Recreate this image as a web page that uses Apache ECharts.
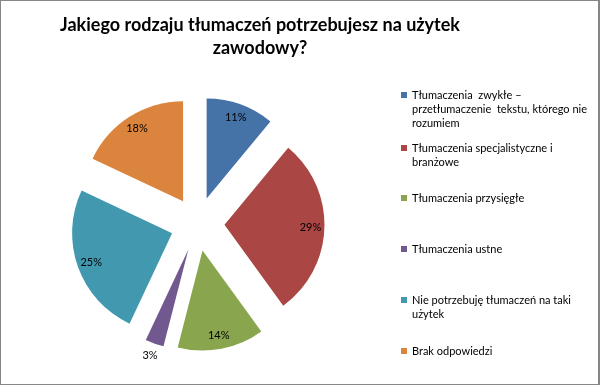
<!DOCTYPE html>
<html><head><meta charset="utf-8">
<script src="https://cdn.jsdelivr.net/npm/echarts@6/dist/echarts.min.js"></script>
<style>
html,body{margin:0;padding:0;background:#fff}
#wrap{position:relative;width:600px;height:385px}
#c{width:600px;height:385px}
#b{position:absolute;left:0;top:0;width:600px;height:385px;box-sizing:border-box;border:1px solid #868686;border-right-width:2px;pointer-events:none}
</style>
</head><body>
<div id="wrap"><div id="c"></div><div id="b"></div></div>
<script>
const titleText = 'Jakiego rodzaju tłumaczeń potrzebujesz na użytek\nzawodowy?';
const categories = [
  'Tłumaczenia zwykłe – przetłumaczenie tekstu, którego nie rozumiem',
  'Tłumaczenia specjalistyczne i branżowe',
  'Tłumaczenia przysięgłe',
  'Tłumaczenia ustne',
  'Nie potrzebuję tłumaczeń na taki użytek',
  'Brak odpowiedzi'
];
const legendLines = [
  ['Tłumaczenia  zwykłe –', 'przetłumaczenie  tekstu, którego nie', 'rozumiem'],
  ['Tłumaczenia specjalistyczne i', 'branżowe'],
  ['Tłumaczenia przysięgłe'],
  ['Tłumaczenia ustne'],
  ['Nie potrzebuję tłumaczeń na taki', 'użytek'],
  ['Brak odpowiedzi']
];
const values = [11, 29, 14, 3, 25, 18];
const colors = ['#4572A7', '#AA4643', '#89A54E', '#71588F', '#4198AF', '#DB843D'];
const outsideLabel = [false, false, false, true, false, false];

const chart = echarts.init(document.getElementById('c'), null, {renderer: 'canvas'});
const CX = 197.5, CY = 224, R = 100, OFF = 27;
const LH = 14;
const iconY = [95, 148, 198, 249, 300, 351];

const legends = categories.map((name, i) => {
  const n = legendLines[i].length;
  const txt = new Array(n - 1).fill('').concat(legendLines[i]).join('\n');
  return {
    data: [name],
    orient: 'vertical',
    left: 401,
    top: iconY[i] - (2 * n - 1) * LH / 2,
    padding: 0,
    icon: 'rect',
    itemWidth: 6,
    itemHeight: 6,
    selectedMode: false,
    formatter: () => txt,
    textStyle: {fontFamily: 'Lato', fontSize: 11, color: '#000', lineHeight: LH}
  };
});

const baseData = values.map((v, i) => ({
  name: categories[i], value: v, selected: true,
  itemStyle: {color: colors[i]}
}));

chart.setOption({
  animation: false,
  title: {
    text: titleText,
    left: 260, top: 14, padding: 0,
    textAlign: 'center',
    textStyle: {fontFamily: 'Lato', fontWeight: 'bold', fontSize: 18, lineHeight: 23, color: '#000'}
  },
  legend: legends,
  series: [
    {
      type: 'pie', center: [CX, CY], radius: R, startAngle: 90, clockwise: true,
      selectedMode: 'multiple', selectedOffset: OFF, avoidLabelOverlap: false,
      label: {show: false}, labelLine: {show: false},
      emphasis: {disabled: true},
      itemStyle: {borderWidth: 0},
      data: baseData
    },
    {
      type: 'pie', center: [CX, CY], radius: [66, R], startAngle: 90, clockwise: true,
      selectedMode: 'multiple', selectedOffset: OFF, avoidLabelOverlap: false, silent: true,
      itemStyle: {color: 'rgba(0,0,0,0)'},
      label: {show: true, position: 'inside', formatter: '{c}%', fontFamily: 'Lato', fontSize: 11, color: '#000'},
      labelLine: {show: false},
      emphasis: {disabled: true},
      data: values.map((v, i) => ({value: v, selected: true, label: {show: !outsideLabel[i]}}))
    },
    {
      type: 'pie', center: [CX, CY], radius: [R, R + 20], startAngle: 90, clockwise: true,
      selectedMode: 'multiple', selectedOffset: OFF, avoidLabelOverlap: false, silent: true,
      itemStyle: {color: 'rgba(0,0,0,0)'},
      label: {show: true, position: 'inside', formatter: '{c}%', fontFamily: 'Lato', fontSize: 11, color: '#000'},
      labelLine: {show: false},
      emphasis: {disabled: true},
      data: values.map((v, i) => ({value: v, selected: true, label: {show: outsideLabel[i]}}))
    }
  ]
});
</script>
</body></html>
